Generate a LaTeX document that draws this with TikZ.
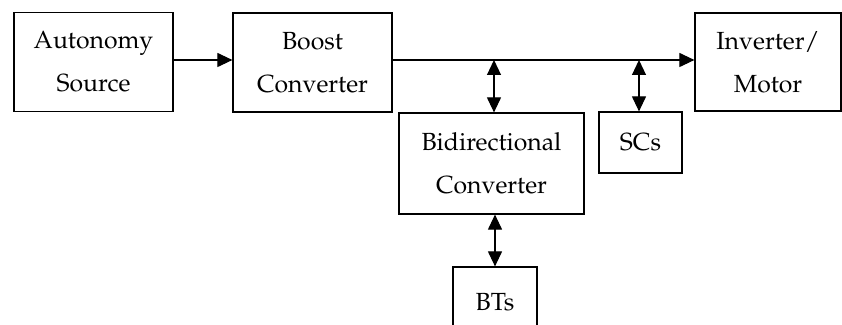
\documentclass[tikz,border=0pt]{standalone}
\usepackage[T1]{fontenc}
\renewcommand{\rmdefault}{ppl}
\usetikzlibrary{arrows.meta}
\begin{document}
\begin{tikzpicture}[x=0.5pt,y=-0.5pt,
  blk/.style={draw,line width=0.6pt,inner sep=0pt,align=center,
    font=\fontsize{12.4}{21.5}\selectfont},
  conn/.style={line width=0.55pt,-{Triangle[length=7.5pt,width=7pt]}},
  bidir/.style={line width=0.55pt,{Triangle[length=7.5pt,width=7pt]}-{Triangle[length=7.5pt,width=7pt]}}]
\clip (0,0) rectangle (842,325);
\node[blk,minimum width=79.5pt,minimum height=49.5pt] (A) at (93.5,62) {Autonomy\\Source};
\node[blk,minimum width=79.5pt,minimum height=49.5pt] (B) at (312.5,62.5) {Boost\\Converter};
\node[blk,minimum width=73pt,minimum height=49pt] (I) at (768,62) {Inverter/\\Motor};
\node[blk,minimum width=92.5pt,minimum height=50.5pt] (Bi) at (491.5,163.5) {Bidirectional\\Converter};
\node[blk,minimum width=41.5pt,minimum height=30.5pt] (SC) at (640.5,142.5) {SCs};
\node[blk,minimum width=42pt,minimum height=35pt] (BT) at (495,302) {BTs};
\coordinate (j1) at (494,60);
\coordinate (j2) at (639,60);
\draw[conn] (A.east |- j1) -- (B.west |- j1);
\draw[conn] (B.east |- j1) -- (I.west |- j1);
\draw[bidir] (j1) -- (j1 |- Bi.north);
\draw[bidir] (j2) -- (j2 |- SC.north);
\draw[bidir] (Bi.south -| BT.north) -- (BT.north);
\end{tikzpicture}
\end{document}
